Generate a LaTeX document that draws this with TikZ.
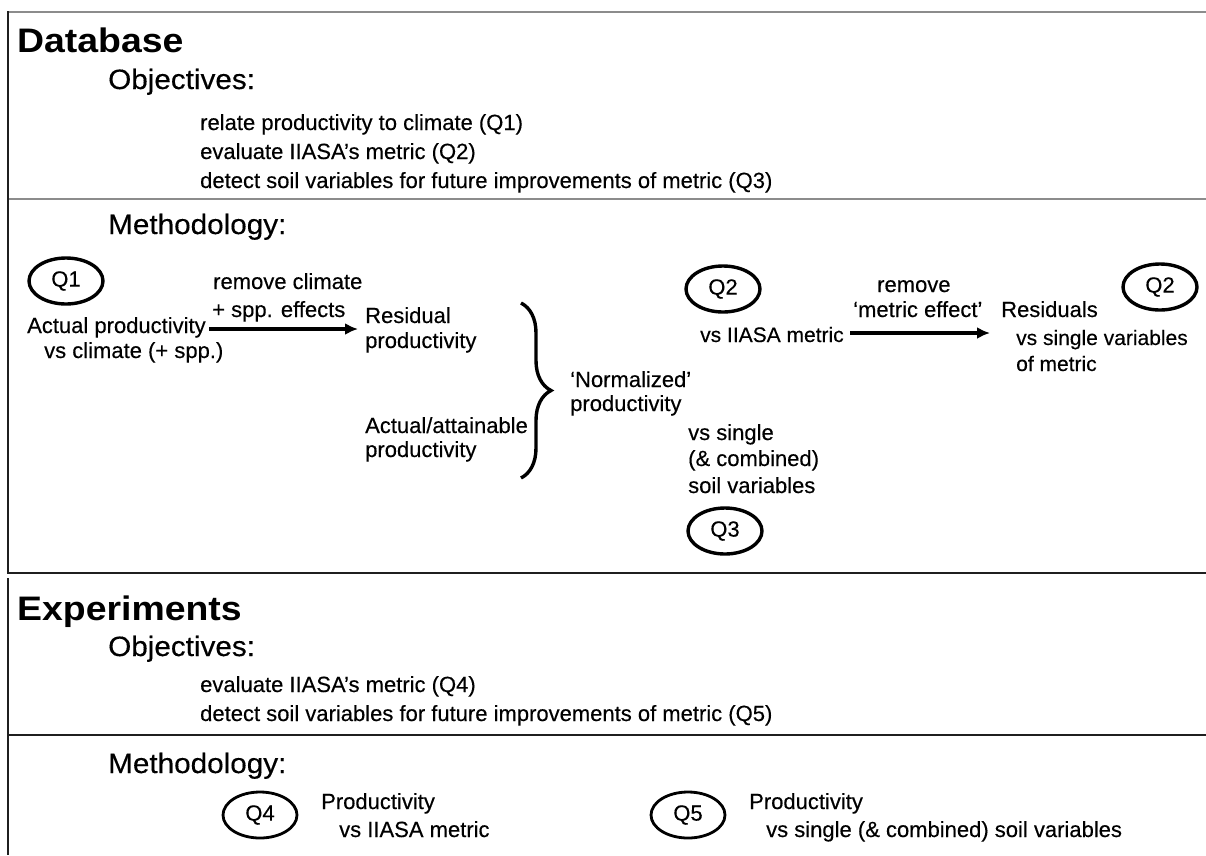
\documentclass[tikz,border=0pt]{standalone}
\usepackage{fontspec}
\setmainfont[FakeBold=0.3]{Liberation Sans}
\newfontfamily\titlefont[FakeStretch=1.1]{Liberation Sans}
\newfontfamily\headfont[FakeStretch=1.06,FakeBold=0.3]{Liberation Sans}
\usetikzlibrary{shapes.geometric,arrows.meta,decorations.pathreplacing}
\begin{document}
\begin{tikzpicture}[x=1pt,y=-1pt,
  titletxt/.style={anchor=base west,inner sep=0pt,font=\titlefont\bfseries\fontsize{34}{40}\selectfont},
  headtxt/.style={anchor=base west,inner sep=0pt,font=\headfont\fontsize{28}{32}\selectfont},
  txt/.style={anchor=base west,inner sep=0pt,font=\fontsize{22}{26}\selectfont},
  stxt/.style={anchor=base west,inner sep=0pt,font=\fontsize{21}{25}\selectfont},
  qbox/.style={draw,ellipse,line width=3.4pt,minimum width=74pt,minimum height=46pt,inner sep=0pt,font=\fontsize{22}{26}\selectfont},
  arr/.style={line width=3.2pt,-{Latex[length=13pt,width=12pt]}},
  gline/.style={draw=black!45,line width=2.2pt},
  dline/.style={draw=black!88,line width=2.4pt},
  bracestyle/.style={line width=3.4pt,decorate,decoration={brace,amplitude=30pt}}]
\useasboundingbox (0,0) rectangle (1206,855);
\fill[white] (0,0) rectangle (1206,855);
% frame lines
\draw[gline] (8,12) -- (1206,12);
\draw[gline] (8,199) -- (1206,199);
\draw[dline] (8,573) -- (1206,573);
\draw[dline] (8,735) -- (1206,735);
\draw[dline] (8,11) -- (8,574);
\draw[dline] (8,578) -- (8,855);
% Database
\node[titletxt] (db) at (17,52) {Database};
\node[headtxt] (dbobj) at (108,89) {Objectives:};
\node[txt] (o1) at (200,130) {relate productivity to climate (Q1)};
\node[txt] (o2) at (200,159) {evaluate IIASA’s metric (Q2)};
\node[txt] (o3) at (200,188) {detect soil variables for future improvements of metric (Q3)};
\node[headtxt] (dbmeth) at (108,234) {Methodology:};
% methodology flow
\node[qbox] (q1) at (66,281) {Q1};
\node[txt] (act1) at (27,333) {Actual productivity};
\node[txt] (act2) at (44,358) {vs climate (+ spp.)};
\node[txt] (rm1) at (213,289) {remove climate};
\node[txt] (rm2) at (212,317) {+ spp. effects};
\coordinate (a1s) at (209,329);
\coordinate (a1e) at (358,329);
\draw[arr] (a1s) -- (a1e);
\node[txt] (res1) at (365,323) {Residual};
\node[txt] (res2) at (365,348) {productivity};
\node[txt] (att1) at (365,433) {Actual/attainable};
\node[txt] (att2) at (365,457) {productivity};
\coordinate (brt) at (521,303);
\coordinate (brb) at (521,478);
\draw[bracestyle] (brt) -- (brb);
\node[txt] (nor1) at (570,387) {‘Normalized’};
\node[txt] (nor2) at (570,411) {productivity};
\node[txt] (vs1) at (688,440) {vs single};
\node[txt] (vs2) at (688,466) {(\& combined)};
\node[txt] (vs3) at (688,493) {soil variables};
\node[qbox] (q3) at (725,531) {Q3};
\node[qbox] (q2a) at (723,289) {Q2};
\node[stxt] (iia) at (700,342) {vs IIASA metric};
\node[txt] (rm3) at (877,292) {remove};
\node[txt] (rm4) at (853,317) {‘metric effect’};
\coordinate (a2s) at (850,333);
\coordinate (a2e) at (990,333);
\draw[arr] (a2s) -- (a2e);
\node[txt] (rsd1) at (1001,317) {Residuals};
\node[stxt] (rsd2) at (1016,345) {vs single variables};
\node[stxt] (rsd3) at (1016,371) {of metric};
\node[qbox] (q2b) at (1160,287) {Q2};
% Experiments
\node[titletxt] (ex) at (17,620) {Experiments};
\node[headtxt] (exobj) at (108,656) {Objectives:};
\node[txt] (e1) at (200,692) {evaluate IIASA’s metric (Q4)};
\node[txt] (e2) at (200,721) {detect soil variables for future improvements of metric (Q5)};
\node[headtxt] (exmeth) at (108,773) {Methodology:};
\node[qbox,line width=2.8pt] (q4) at (260,815) {Q4};
\node[txt] (p4a) at (321,809) {Productivity};
\node[txt] (p4b) at (339,837) {vs IIASA metric};
\node[qbox,line width=2.8pt] (q5) at (688,815) {Q5};
\node[txt] (p5a) at (749,809) {Productivity};
\node[txt] (p5b) at (766,837) {vs single (\& combined) soil variables};
\end{tikzpicture}
\end{document}
